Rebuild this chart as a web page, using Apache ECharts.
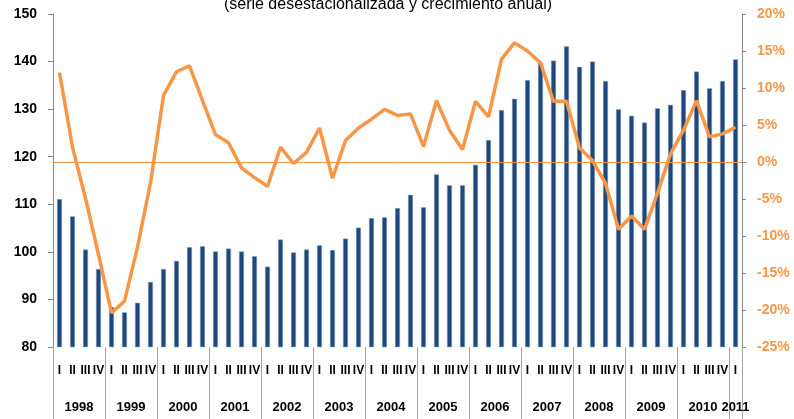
<!DOCTYPE html>
<html>
<head>
<meta charset="utf-8">
<script src="https://cdn.jsdelivr.net/npm/echarts@6/dist/echarts.min.js"></script>
<style>
  html, body { margin: 0; padding: 0; background: #fff; }
  #main { width: 794px; height: 419px; }
</style>
</head>
<body>
<div id="main"></div>
<script>
// trimestres 1998 I - 2011 I
const quarters = [];
const years = ['1998','1999','2000','2001','2002','2003','2004','2005','2006','2007','2008','2009','2010','2011'];
years.forEach(function (y, i) {
  const qs = i === years.length - 1 ? ['I'] : ['I', 'II', 'III', 'IV'];
  qs.forEach(function (q) { quarters.push(q); });
});

// indice desestacionalizado (eje izquierdo)
const indexValues = [
  111.1, 107.5, 100.5, 96.4,
  88.4, 87.3, 89.3, 93.7,
  96.4, 98.1, 101.0, 101.2,
  100.1, 100.7, 100.1, 99.1,
  96.9, 102.6, 99.9, 100.5,
  101.4, 100.4, 102.8, 105.1,
  107.1, 107.3, 109.2, 112.0,
  109.4, 116.3, 114.0, 114.0,
  118.3, 123.5, 129.8, 132.2,
  136.1, 139.7, 140.2, 143.2,
  138.9, 140.0, 135.9, 130.0,
  128.6, 127.2, 130.2, 130.9,
  134.0, 137.9, 134.4, 135.9,
  140.5
];

// crecimiento anual % (eje derecho)
const growthValues = [
  12.1, 2.0, -4.9, -12.5,
  -20.4, -18.8, -11.5, -2.8,
  9.0, 12.2, 13.0, 8.3,
  3.7, 2.6, -0.8, -2.1,
  -3.3, 2.0, -0.2, 1.3,
  4.6, -2.2, 2.9, 4.6,
  5.8, 7.1, 6.3, 6.5,
  2.1, 8.3, 4.3, 1.7,
  8.2, 6.1, 13.9, 16.1,
  15.0, 13.4, 8.2, 8.2,
  1.9, 0.2, -2.9, -9.1,
  -7.3, -9.1, -4.2, 1.1,
  4.3, 8.3, 3.4, 3.8,
  4.7
];

// posiciones del eje de años (en trimestres)
const yearTicks = [0, 4, 8, 12, 16, 20, 24, 28, 32, 36, 40, 44, 48, 52, 53];
const yearCenters = [2, 6, 10, 14, 18, 22, 26, 30, 34, 38, 42, 46, 50, 52.5];

const orange = '#F79646';
const blue = '#1F497D';
const grey = '#868686';

const chart = echarts.init(document.getElementById('main'));
chart.setOption({
  animation: false,
  textStyle: { fontFamily: 'Liberation Sans, Arial, sans-serif' },
  title: {
    text: '(serie desestacionalizada y crecimiento anual)',
    left: 383,
    textAlign: 'center',
    top: -8,
    textStyle: { fontSize: 16, fontWeight: 'normal', color: '#000' }
  },
  grid: { left: 53, right: 52, top: 14, bottom: 72 },
  xAxis: [
    {
      type: 'category',
      data: quarters,
      boundaryGap: true,
      axisLine: { lineStyle: { color: grey, width: 1 } },
      axisTick: { interval: 0, length: 34, lineStyle: { color: '#a6a6a6' } },
      axisLabel: { interval: 0, margin: 18, fontSize: 12, fontWeight: 'bold', color: '#000' }
    },
    {
      type: 'value',
      position: 'bottom',
      min: 0,
      max: 53,
      axisLine: { show: false },
      splitLine: { show: false },
      axisTick: { show: true, customValues: yearTicks, length: 72, lineStyle: { color: '#a6a6a6' } },
      axisLabel: {
        customValues: yearCenters,
        margin: 54,
        fontSize: 13,
        fontWeight: 'bold',
        color: '#000',
        formatter: function (v) { return years[Math.floor(v / 4)]; }
      }
    }
  ],
  yAxis: [
    {
      type: 'value',
      min: 80,
      max: 150,
      interval: 10,
      axisLine: { show: true, lineStyle: { color: grey } },
      axisTick: { show: true, length: 5, lineStyle: { color: grey } },
      splitLine: { show: false },
      axisLabel: { margin: 16, fontSize: 14, fontWeight: 'bold', color: '#000' }
    },
    {
      type: 'value',
      min: -25,
      max: 20,
      interval: 5,
      position: 'right',
      axisLine: { show: true, lineStyle: { color: grey } },
      axisTick: { show: true, length: 4, lineStyle: { color: grey } },
      splitLine: { show: false },
      axisLabel: { margin: 15, fontSize: 14, fontWeight: 'bold', color: orange, formatter: '{value}%' }
    }
  ],
  series: [
    {
      name: 'Índice',
      type: 'bar',
      xAxisIndex: 0,
      yAxisIndex: 0,
      data: indexValues,
      barWidth: 5,
      itemStyle: { color: blue, borderColor: '#9db3d3', borderWidth: 0.5 }
    },
    {
      name: 'Crecimiento anual',
      type: 'line',
      xAxisIndex: 0,
      yAxisIndex: 1,
      data: growthValues,
      symbol: 'none',
      lineStyle: { color: orange, width: 3.5 },
      markLine: {
        silent: true,
        symbol: 'none',
        label: { show: false },
        lineStyle: { color: orange, width: 1, type: 'solid' },
        data: [{ yAxis: 0 }]
      }
    }
  ]
});
</script>
</body>
</html>
